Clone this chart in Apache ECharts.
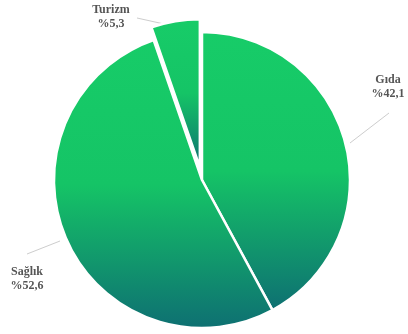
<!DOCTYPE html>
<html>
<head>
<meta charset="utf-8">
<script src="https://cdn.jsdelivr.net/npm/echarts@6/dist/echarts.min.js"></script>
<style>
	html, body { margin: 0; padding: 0; background: #fff; }
	#chart { width: 408px; height: 334px; }
</style>
</head>
<body>
<div id="chart"></div>
<script>
var categories = ['Gıda', 'Sağlık', 'Turizm'];
var values = [42.1, 52.6, 5.3];
var explodedName = 'Turizm';

// label spots + leader lines, by category index
var labelSpots = [[388, 87], [27, 279], [111, 17]];
var leaderLines = [
	[[350, 143], [389, 113]],
	[[27, 254], [60, 241]],
	[[137, 18], [182, 28]]
];

var pieCenter = [202, 180];
var pieOffset = 13;

var total = 0;
for (var k = 0; k < values.length; k++) total += values[k];

// where the pulled-out slice sits
var explodedIdx = categories.indexOf(explodedName);
var before = 0;
for (var j = 0; j < explodedIdx; j++) before += values[j];
var midAngle = (90 - (before + values[explodedIdx] / 2) / total * 360) * Math.PI / 180;
var explodedCenter = [
	pieCenter[0] + pieOffset * Math.cos(midAngle),
	pieCenter[1] - pieOffset * Math.sin(midAngle)
];

var hidden = {
	itemStyle: { color: 'transparent', borderWidth: 0 },
	label: { show: false },
	labelLine: { show: false }
};

function buildData(showExploded) {
	var out = [];
	for (var i = 0; i < categories.length; i++) {
		var item = { name: categories[i], value: values[i] };
		if ((i === explodedIdx) !== showExploded) {
			item.itemStyle = hidden.itemStyle;
			item.label = hidden.label;
			item.labelLine = hidden.labelLine;
		}
		out.push(item);
	}
	return out;
}

function pieSeries(center, data) {
	return {
		type: 'pie',
		center: center,
		radius: 148,
		startAngle: 90,
		clockwise: true,
		animation: false,
		silent: true,
		data: data,
		itemStyle: {
			borderColor: '#fff',
			borderWidth: 2.5,
			color: {
				type: 'linear', x: 0, y: 0, x2: 0, y2: 1,
				colorStops: [
					{ offset: 0, color: '#17cc68' },
					{ offset: 0.5, color: '#15c466' },
					{ offset: 1, color: '#0e6f72' }
				]
			}
		},
		label: {
			show: true,
			position: 'outside',
			overflow: 'none',
			width: 80,
			align: 'center',
			formatter: function (p) {
				return p.name + '\n%' + String(p.value).replace('.', ',');
			},
			fontFamily: 'Liberation Serif',
			fontWeight: 'bold',
			fontSize: 12,
			lineHeight: 14,
			color: '#555'
		},
		labelLine: {
			show: true,
			length: 20,
			length2: 0,
			lineStyle: { color: '#cdcdcd', width: 1 }
		},
		labelLayout: function (params) {
			var i = params.dataIndex;
			var s = labelSpots[i];
			return {
				x: s[0],
				y: s[1],
				align: 'center',
				verticalAlign: 'middle',
				labelLinePoints: leaderLines[i]
			};
		},
		emphasis: { disabled: true }
	};
}

var option = {
	backgroundColor: '#fff',
	series: [
		pieSeries(pieCenter, buildData(false)),
		pieSeries(explodedCenter, buildData(true))
	]
};

var _chart = echarts.init(document.getElementById('chart'));
_chart.setOption(option);
</script>
</body>
</html>
